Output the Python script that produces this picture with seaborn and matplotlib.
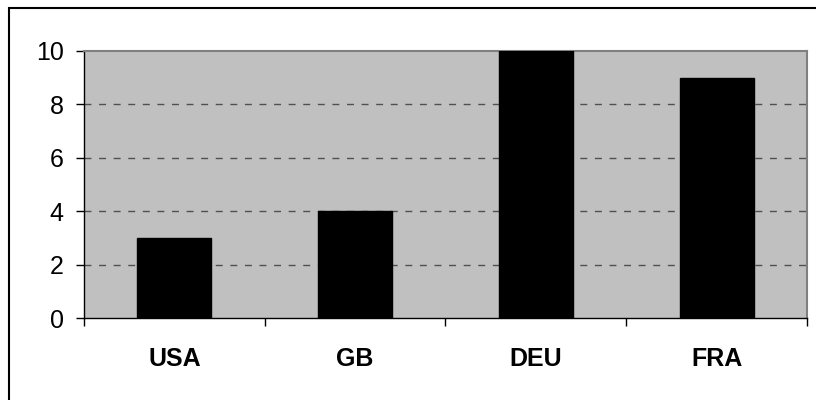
import matplotlib
matplotlib.use("Agg")
import matplotlib.pyplot as plt
import seaborn as sns
from matplotlib.patches import Rectangle
from matplotlib.ticker import FixedLocator

# Data
countries = ["USA", "GB", "DEU", "FRA"]
values = [3, 4, 10, 9]
y_ticks = [0, 2, 4, 6, 8, 10]

sns.set_style("white")
plt.rcParams['font.family'] = ['Liberation Sans', 'DejaVu Sans']

fig = plt.figure(figsize=(8.16, 4.0), dpi=100)
ax = fig.add_axes([84 / 816, 1 - 318 / 400, (807 - 84) / 816, (318 - 51) / 400])
ax.set_facecolor('#C0C0C0')

sns.barplot(x=countries, y=values, color='black', edgecolor='black',
            width=0.41, saturation=1, ax=ax, zorder=3)

ax.set_ylim(0, 10)
ax.set_xlim(-0.5, 3.5)
ax.set_yticks(y_ticks)
ax.set_yticklabels([str(t) for t in y_ticks], fontsize=18, color='black')

# dashed grid lines
for t in y_ticks[1:-1]:
    ax.axhline(t, color='#505050', lw=1, linestyle=(0, (5, 5.5)), zorder=1)

# category boundaries as ticks
ax.xaxis.set_minor_locator(FixedLocator([-0.5, 0.5, 1.5, 2.5, 3.5]))
ax.tick_params(axis='x', which='minor', length=5.5, width=1, color='black', direction='out', bottom=True)
ax.tick_params(axis='x', which='major', length=0, pad=21)
for lbl in ax.get_xticklabels():
    lbl.set_fontsize(18)
    lbl.set_fontweight('bold')
    lbl.set_color('black')
ax.tick_params(axis='y', length=5.5, width=1, color='black', direction='out', left=True, pad=9)

for side in ['left', 'bottom']:
    ax.spines[side].set_color('black')
    ax.spines[side].set_linewidth(1)
for side in ['top', 'right']:
    ax.spines[side].set_color('#808080')
    ax.spines[side].set_linewidth(1.5)

ax.set_xlabel('')
ax.set_ylabel('')

# outer chart frame
fig.patches.append(Rectangle((8.5 / 816, -0.1), 1.2, 1.1 - 7.5 / 400,
                             transform=fig.transFigure, fill=False,
                             edgecolor='black', lw=1.5, zorder=0))

fig.savefig('out.png', dpi=100)
